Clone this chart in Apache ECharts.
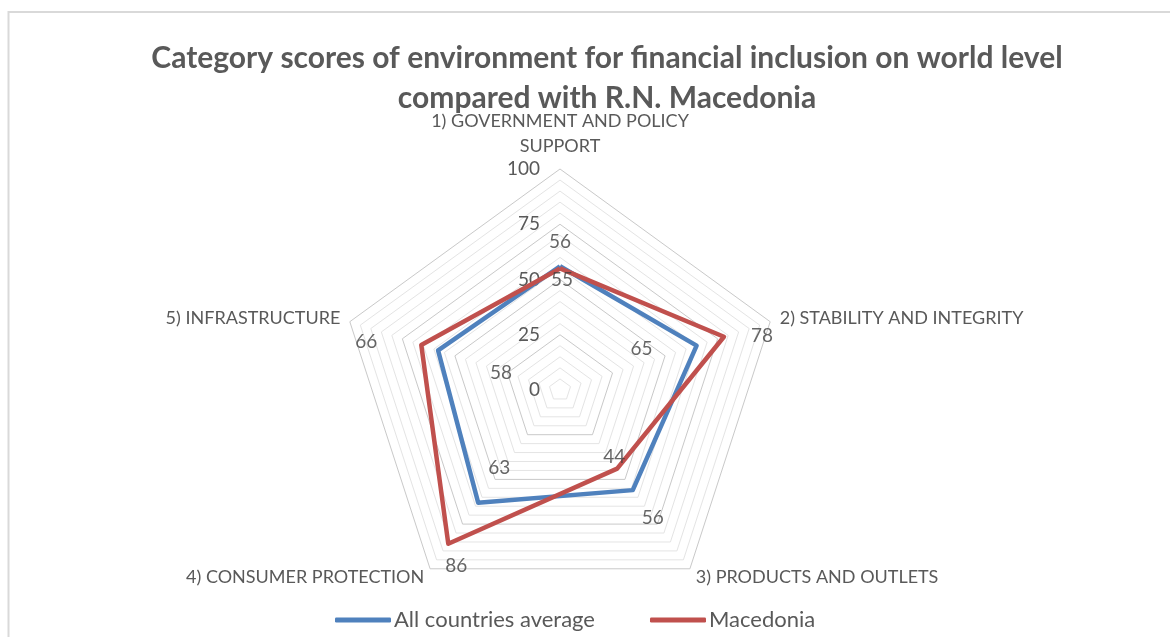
<!DOCTYPE html>
<html>
<head>
<meta charset="utf-8">
<script src="https://cdn.jsdelivr.net/npm/echarts@6/dist/echarts.min.js"></script>
<style>
  html, body { margin: 0; padding: 0; background: #ffffff; }
  #chart { width: 1170px; height: 637px; }
</style>
</head>
<body>
<div id="chart"></div>
<script>
// Categories, in clockwise order starting at the top
const categories = [
  '1) GOVERNMENT AND POLICY\nSUPPORT',
  '2) STABILITY AND INTEGRITY',
  '3) PRODUCTS AND OUTLETS',
  '4) CONSUMER PROTECTION',
  '5) INFRASTRUCTURE'
];
const seriesNames = ['All countries average', 'Macedonia'];
const allCountries = [56, 65, 56, 63, 58];
const macedonia = [55, 78, 44, 86, 66];
const tickLabels = [0, 25, 50, 75, 100];
const scoreMax = 100;

const FONT = 'Lato';
const GREY = '#595959';
const BLUE = '#4F81BD';
const RED = '#C0504D';
const CENTER = [560, 390];
const RADIUS = 221;

// ECharts lays radar indicators out counter-clockwise; reorder so the
// categories run clockwise from the top.
const order = [0, 4, 3, 2, 1];
const reorder = arr => order.map(i => arr[i]);

// Offsets of each value label from its vertex (clockwise category order)
const blueLabelOffsets = [[0, -24], [-55, 3], [20, 28], [21, -35], [63, 22]];
const redLabelOffsets = [[2, 11], [38, -1], [-3, -12], [8, 22], [-55, -3]];

const ringColors = ['#c9c9c9', '#e4e4e4', '#e4e4e4', '#e4e4e4', '#e4e4e4'];

const indicator = reorder(categories).map((name, k) => {
  const ind = { name: name, min: 0, max: scoreMax };
  if (k === 0) {
    ind.axisLabel = {
      show: true,
      color: GREY,
      fontFamily: FONT,
      fontSize: 19,
      margin: 20,
      formatter: v => (tickLabels.indexOf(v) >= 0 ? String(v) : '')
    };
  }
  return ind;
});

function labelPoints(values, offsets) {
  return values.map((v, i) => ({
    value: [v, i],
    label: { offset: offsets[i], color: '#404040' }
  }));
}

const chart = echarts.init(document.getElementById('chart'), null, { renderer: 'canvas' });
chart.setOption({
  backgroundColor: '#ffffff',
  animation: false,
  graphic: [{
    type: 'rect',
    shape: { x: 8.5, y: 12, width: 1300, height: 800 },
    style: { fill: 'none', stroke: '#d9d9d9', lineWidth: 2 },
    silent: true
  }],
  title: {
    text: 'Category scores of environment for financial inclusion on world level\ncompared with R.N. Macedonia',
    left: 602,
    top: 33,
    textAlign: 'center',
    textStyle: {
      fontFamily: FONT,
      fontWeight: 'bold',
      fontSize: 30,
      lineHeight: 40,
      color: GREY
    }
  },
  legend: {
    data: seriesNames,
    bottom: 1,
    left: 330,
    icon: 'roundRect',
    itemWidth: 56,
    itemHeight: 5,
    itemGap: 55,
    textStyle: { fontFamily: FONT, fontSize: 22, color: GREY, padding: [0, 0, 0, -2] }
  },
  radar: {
    center: CENTER,
    radius: RADIUS,
    startAngle: 90,
    shape: 'polygon',
    splitNumber: 20,
    indicator: indicator,
    axisName: {
      color: GREY,
      fontFamily: FONT,
      fontSize: 18,
      lineHeight: 25
    },
    nameGap: 10,
    axisLine: { show: false },
    axisTick: { show: false },
    axisLabel: { show: false },
    splitArea: { show: false },
    splitLine: { lineStyle: { color: ringColors, width: 1 } }
  },
  // Polar system sharing the radar's centre and radius, used for value labels
  polar: { center: CENTER, radius: RADIUS },
  angleAxis: {
    type: 'value', min: 0, max: categories.length,
    startAngle: 90, clockwise: true, show: false
  },
  radiusAxis: { type: 'value', min: 0, max: scoreMax, show: false },
  series: [
    {
      type: 'radar',
      symbol: 'none',
      data: [
        {
          name: seriesNames[0],
          value: reorder(allCountries),
          itemStyle: { color: BLUE },
          lineStyle: { color: BLUE, width: 4.5 }
        },
        {
          name: seriesNames[1],
          value: reorder(macedonia),
          itemStyle: { color: RED },
          lineStyle: { color: RED, width: 4.5 }
        }
      ]
    },
    {
      type: 'scatter',
      coordinateSystem: 'polar',
      symbolSize: 0,
      silent: true,
      label: {
        show: true, position: 'inside', fontFamily: FONT, fontSize: 19,
        formatter: p => String(p.value[0])
      },
      data: labelPoints(allCountries, blueLabelOffsets)
    },
    {
      type: 'scatter',
      coordinateSystem: 'polar',
      symbolSize: 0,
      silent: true,
      label: {
        show: true, position: 'inside', fontFamily: FONT, fontSize: 19,
        formatter: p => String(p.value[0])
      },
      data: labelPoints(macedonia, redLabelOffsets)
    }
  ]
});
</script>
</body>
</html>
